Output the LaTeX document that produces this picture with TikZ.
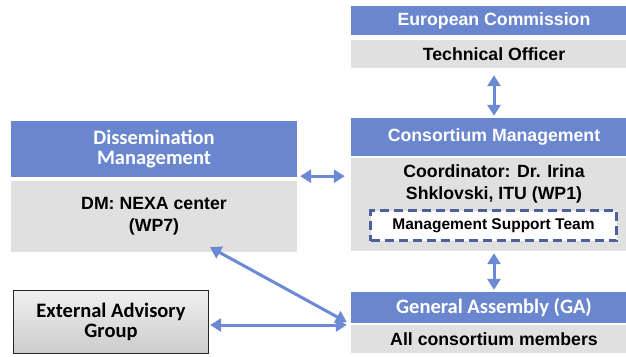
\documentclass[tikz,border=0pt]{standalone}
\usepackage{fontspec}
\setmainfont{Liberation Sans}
\newfontfamily\carl{Carlito}
\usetikzlibrary{arrows.meta,calc}
\definecolor{hdrblue}{RGB}{106,134,206}
\definecolor{bodygray}{RGB}{224,224,224}
\definecolor{arrblue}{RGB}{108,138,212}
\definecolor{dashblue}{RGB}{78,95,158}
\tikzset{
  x=1pt,y=-1pt,
  hdr/.style={fill=hdrblue,text=white,inner sep=0pt,align=center,minimum width=286},
  bodybox/.style={fill=bodygray,text=black,inner sep=0pt,align=center,minimum width=286},
  arial/.style={font=\bfseries\fontsize{17.7}{22}\selectfont},
  calib/.style={font=\carl\bfseries\fontsize{20.5}{20}\selectfont},
  arr/.style={draw=arrblue,line width=3pt,{Triangle[length=11pt,width=13pt]}-{Triangle[length=11pt,width=13pt]}},
}
\begin{document}
\begin{tikzpicture}
\clip (0,0) rectangle (626,356);
\fill[white] (0,0) rectangle (626,356);
% right column
\node[hdr,arial,minimum height=29] (ech) at (494,20.5) {European Commission};
\node[bodybox,arial,minimum height=28] (to) at (494,54) {Technical Officer};
\node[hdr,arial,minimum height=38] (cmh) at (494,137) {Consortium Management};
\node[bodybox,minimum height=93] (cmb) at (494,204.5) {};
\node[arial,align=center,inner sep=0pt] (coord) at (494,184) {Coordinator: Dr. Irina\\Shklovski, ITU (WP1)};
\node[fill=white,draw=dashblue,line width=2.5pt,dash pattern=on 9pt off 5pt,inner sep=0pt,
      minimum width=246,minimum height=30,font=\bfseries\fontsize{15.5}{18}\selectfont] (mst) at (493.5,225.5) {Management Support Team};
\node[hdr,calib,minimum height=31] (gah) at (494,307.5) {General Assembly (GA)};
\node[bodybox,arial,minimum height=28] (gab) at (494,339) {All consortium members};
% left column
\node[hdr,calib,minimum height=56] (dmh) at (154,149) {Dissemination\\Management};
\node[bodybox,arial,minimum height=71] (dmb) at (154,216.5) {DM: NEXA center\\(WP7)};
\node[draw=black!85,line width=1.3pt,top color=white!94!black,bottom color=white!80!black,
      inner sep=0pt,align=center,minimum width=195,minimum height=63,calib] (eag) at (111,322) {External Advisory\\Group};
% connectors
\draw[arr,shorten <=7pt,shorten >=2pt] (to.south) -- (cmh.north);
\draw[arr,shorten <=2pt,shorten >=2pt] (cmb.south) -- (gah.north);
\draw[arr] ([xshift=3pt,yshift=1pt]dmh.south east) -- ([xshift=-6pt,yshift=1pt]dmh.south east -| cmb.west);
\draw[arr] ([xshift=1pt,yshift=-3pt]eag.east) -- ([xshift=-4pt,yshift=-3pt]eag.east -| gah.west);
\coordinate (d5a) at ([xshift=56pt,yshift=5pt]dmb.south);
\coordinate (d5b) at ([xshift=-4pt,yshift=1pt]gah.south west);
\draw[arr] (d5a) -- (d5b);
\end{tikzpicture}
\end{document}
